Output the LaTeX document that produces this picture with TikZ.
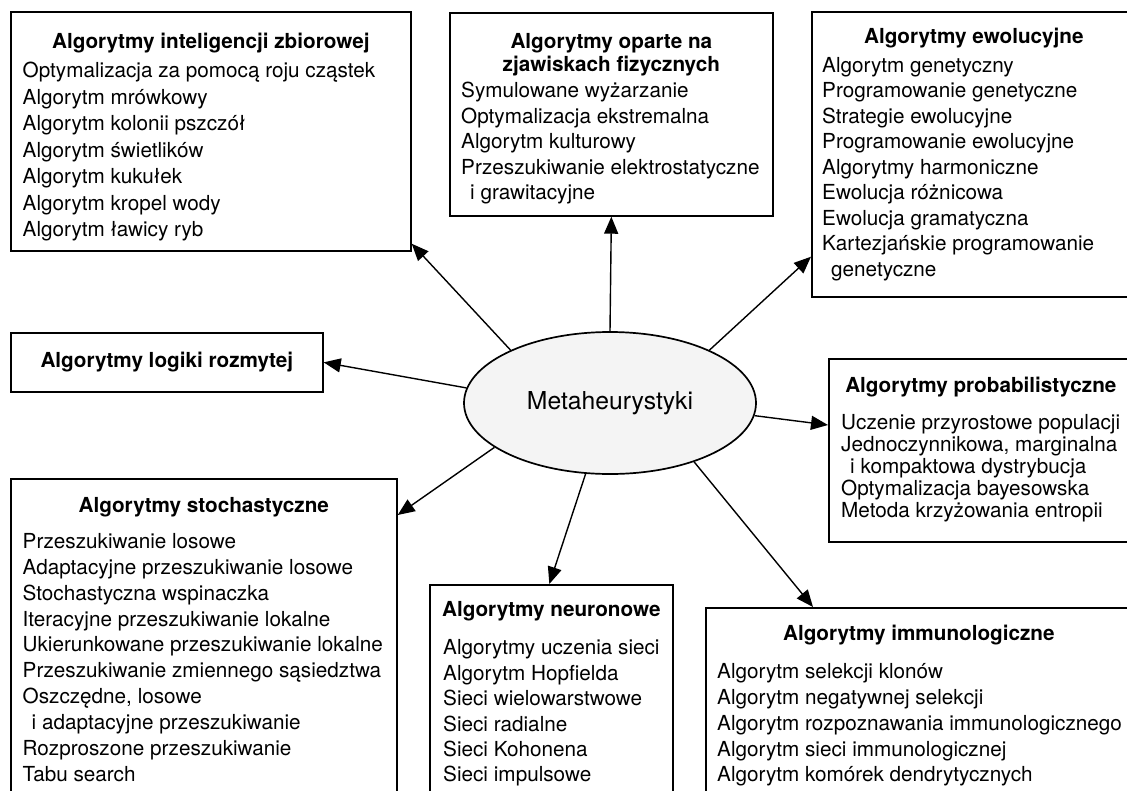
\documentclass[tikz,border=0pt]{standalone}
\usepackage{fontspec}
\setmainfont{TeX Gyre Heros}
\usetikzlibrary{arrows.meta,positioning,shapes.geometric}
\definecolor{MetaGrey}{HTML}{F4F4F4}
\tikzset{
  catbox/.style={draw, line width=1.7pt, fill=white, anchor=north west, inner sep=0pt},
  cathead/.style={font=\bfseries\fontsize{20.7}{23.5}\selectfont, align=center, inner sep=0pt, anchor=north},
  catlist/.style={font=\fontsize{20.7}{#1}\selectfont, align=left, inner sep=0pt, anchor=north west},
  catlist/.default=25.8pt,
  link/.style={-{Triangle[length=17pt,width=14pt]}, line width=1.4pt}
}

\begin{document}
\begin{tikzpicture}[x=1pt,y=-1pt]
\useasboundingbox (0,0) rectangle (1127,790);
\clip (0,0) rectangle (1127,790);

% centre
\node[ellipse, draw, line width=1.7pt, fill=MetaGrey, minimum width=292pt, minimum height=142pt,
  font=\fontsize{24.7}{30}\selectfont] (meta) at (610,403) {Metaheurystyki};

% swarm intelligence
\node[catbox, minimum width=400pt, minimum height=239pt] (swarm) at (10,11) {};
\node[cathead, below=22pt of swarm.north] (swarmhead) {Algorytmy inteligencji zbiorowej};
\node[catlist=26.5pt, below right=51pt and 12.5pt of swarm.north west] (swarmlist) {%
  Optymalizacja za pomocą roju cząstek\\
  Algorytm mrówkowy\\
  Algorytm kolonii pszczół\\
  Algorytm świetlików\\
  Algorytm kukułek\\
  Algorytm kropel wody\\
  Algorytm ławicy ryb};

% physics based
\node[catbox, minimum width=323pt, minimum height=203pt] (phys) at (449,12) {};
\node[cathead, below=21pt of phys.north] (physhead) {Algorytmy oparte na\\zjawiskach fizycznych};
\node[catlist=25.5pt, below right=70pt and 12pt of phys.north west] (physlist) {%
  Symulowane wyżarzanie\\
  Optymalizacja ekstremalna\\
  Algorytm kulturowy\\
  Przeszukiwanie elektrostatyczne\\
  \hspace*{9pt}i grawitacyjne};

% evolutionary
\node[catbox, minimum width=324pt, minimum height=285pt] (evo) at (811,11) {};
\node[cathead, below=17pt of evo.north] (evohead) {Algorytmy ewolucyjne};
\node[catlist=25.5pt, below right=46pt and 11pt of evo.north west] (evolist) {%
  Algorytm genetyczny\\
  Programowanie genetyczne\\
  Strategie ewolucyjne\\
  Programowanie ewolucyjne\\
  Algorytmy harmoniczne\\
  Ewolucja różnicowa\\
  Ewolucja gramatyczna\\
  Kartezjańskie programowanie\\
  \hspace*{9pt}genetyczne};

% fuzzy logic
\node[catbox, minimum width=312pt, minimum height=59pt,
  font=\bfseries\fontsize{20.7}{23.5}\selectfont] (fuzzy) at (10,332) {Algorytmy logiki rozmytej};

% probabilistic
\node[catbox, minimum width=304pt, minimum height=183pt] (prob) at (828,358) {};
\node[cathead, below=19pt of prob.north] (probhead) {Algorytmy probabilistyczne};
\node[catlist=22pt, below right=56pt and 13pt of prob.north west] (problist) {%
  Uczenie przyrostowe populacji\\
  Jednoczynnikowa, marginalna\\
  \hspace*{9pt}i kompaktowa dystrybucja\\
  Optymalizacja bayesowska\\
  Metoda krzyżowania entropii};

% stochastic
\node[catbox, minimum width=386pt, minimum height=330pt] (stoch) at (10,478) {};
\node[cathead, below=19pt of stoch.north] (stochhead) {Algorytmy stochastyczne};
\node[catlist=25.9pt, below right=55pt and 12.5pt of stoch.north west] (stochlist) {%
  Przeszukiwanie losowe\\
  Adaptacyjne przeszukiwanie losowe\\
  Stochastyczna wspinaczka\\
  Iteracyjne przeszukiwanie lokalne\\
  Ukierunkowane przeszukiwanie lokalne\\
  Przeszukiwanie zmiennego sąsiedztwa\\
  Oszczędne, losowe\\
  \hspace*{9pt}i adaptacyjne przeszukiwanie\\
  Rozproszone przeszukiwanie\\
  Tabu search};

% neural
\node[catbox, minimum width=243pt, minimum height=230pt] (neur) at (429,584) {};
\node[cathead, below=17pt of neur.north] (neurhead) {Algorytmy neuronowe};
\node[catlist=25.4pt, below right=55.5pt and 14pt of neur.north west] (neurlist) {%
  Algorytmy uczenia sieci\\
  Algorytm Hopfielda\\
  Sieci wielowarstwowe\\
  Sieci radialne\\
  Sieci Kohonena\\
  Sieci impulsowe};

% immunological
\node[catbox, minimum width=426pt, minimum height=210pt] (immuno) at (705,607) {};
\node[cathead, below=18pt of immuno.north] (immunohead) {Algorytmy immunologiczne};
\node[catlist=25.75pt, below right=56.5pt and 12pt of immuno.north west] (immunolist) {%
  Algorytm selekcji klonów\\
  Algorytm negatywnej selekcji\\
  Algorytm rozpoznawania immunologicznego\\
  Algorytm sieci immunologicznej\\
  Algorytm komórek dendrytycznych};

% links
\draw[link] (meta.152) -- ([yshift=8pt]swarm.south east);
\draw[link] (meta.north) -- (phys.south);
\draw[link] (meta.28) -- ([yshift=41pt]evo.south west);
\draw[link] (meta.174) -- (fuzzy.east);
\draw[link] (meta.-5) -- ([yshift=-67pt]prob.north west);
\draw[link] (meta.201) -- ([yshift=-37pt]stoch.north east);
\draw[link] (meta.-109) -- ([xshift=-2pt]neur.north);
\draw[link] (meta.-35) -- ([xshift=108pt]immuno.north west);
\end{tikzpicture}
\end{document}
